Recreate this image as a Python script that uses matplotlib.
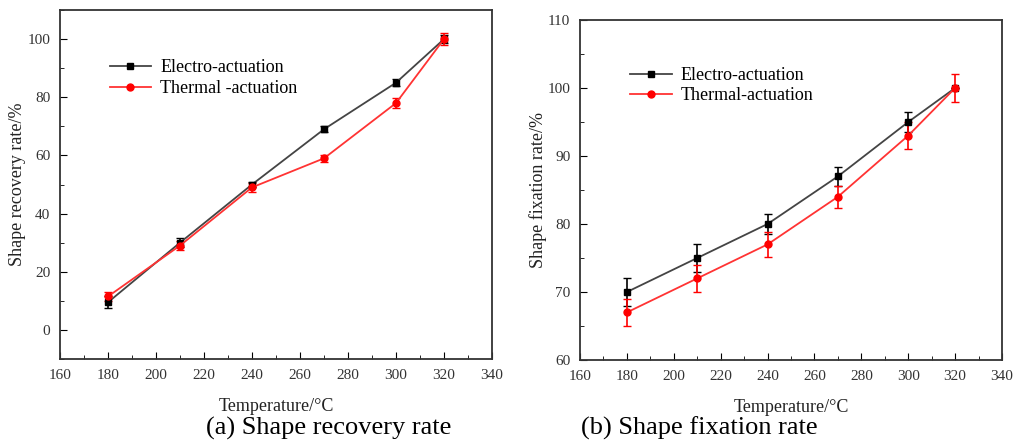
import matplotlib
matplotlib.use('Agg')
import matplotlib.pyplot as plt
from matplotlib.ticker import MultipleLocator

plt.rcParams['font.family'] = ['Liberation Serif', 'DejaVu Serif']

temp = [180, 210, 240, 270, 300, 320]

# (a) shape recovery rate
rec_elec = [9.5, 30, 50, 69, 85, 100]
rec_elec_err = [2, 1.5, 1, 1, 1.2, 1.5]
rec_therm = [11.5, 29, 49, 59, 78, 100]
rec_therm_err = [1.5, 1.5, 1.5, 1.3, 1.8, 2]

# (b) shape fixation rate
fix_elec = [70, 75, 80, 87, 95, 100]
fix_elec_err = [2, 2, 1.5, 1.4, 1.5, 0]
fix_therm = [67, 72, 77, 84, 93, 100]
fix_therm_err = [2, 2, 1.8, 1.6, 2, 2]

fig = plt.figure(figsize=(10.14, 4.41), dpi=100)
ax1 = fig.add_axes([60/1014, 82/441, 432/1014, 349/441])
ax2 = fig.add_axes([580/1014, 81/441, 422/1014, 340/441])


def draw(ax, e, ee, t, te, lab_e, lab_t, anchor):
    h1 = ax.errorbar(temp, e, yerr=ee, color='#444444', mfc='black', mec='black',
                     ecolor='black', marker='s', ms=5, lw=1.3, capsize=3,
                     elinewidth=1.2)
    h2 = ax.errorbar(temp, t, yerr=te, color='#ff3333', mfc='red', mec='red',
                     ecolor='red', marker='o', ms=5, lw=1.3, capsize=3,
                     elinewidth=1.2)
    ax.set_xlim(160, 340)
    ax.xaxis.set_major_locator(MultipleLocator(20))
    ax.xaxis.set_minor_locator(MultipleLocator(10))
    ax.tick_params(which='both', direction='in', labelsize=11, labelcolor='#333333',
                   top=False, right=False, pad=7)
    ax.tick_params(which='major', length=5)
    ax.tick_params(which='minor', length=3)
    for s in ax.spines.values():
        s.set_linewidth(1.3)
        s.set_color('#333333')
    ax.set_xlabel('Temperature/°C', fontsize=13, labelpad=12, color='#222222')
    ax.legend([h1[0], h2[0]], [lab_e, lab_t], loc='upper left', bbox_to_anchor=anchor,
              frameon=False, fontsize=13, handlelength=2.3, handletextpad=0.5,
              labelspacing=0.2)


draw(ax1, rec_elec, rec_elec_err, rec_therm, rec_therm_err,
     'Electro-actuation', 'Thermal -actuation', (0.077, 0.905))
ax1.set_ylim(-10, 110)
ax1.yaxis.set_major_locator(MultipleLocator(20))
ax1.yaxis.set_minor_locator(MultipleLocator(10))
ax1.set_ylabel('Shape recovery rate/%', fontsize=13, color='#222222', labelpad=1)

draw(ax2, fix_elec, fix_elec_err, fix_therm, fix_therm_err,
     'Electro-actuation', 'Thermal-actuation', (0.08, 0.91))
ax2.set_ylim(60, 110)
ax2.yaxis.set_major_locator(MultipleLocator(10))
ax2.yaxis.set_minor_locator(MultipleLocator(5))
ax2.set_ylabel('Shape fixation rate/%', fontsize=13, color='#222222', labelpad=0)

fig.text(329/1014, 1 - 428/441, '(a) Shape recovery rate', fontsize=19,
         ha='center', va='center')
fig.text(699/1014, 1 - 428/441, '(b) Shape fixation rate', fontsize=19,
         ha='center', va='center')

fig.savefig('out.png', dpi=100)
